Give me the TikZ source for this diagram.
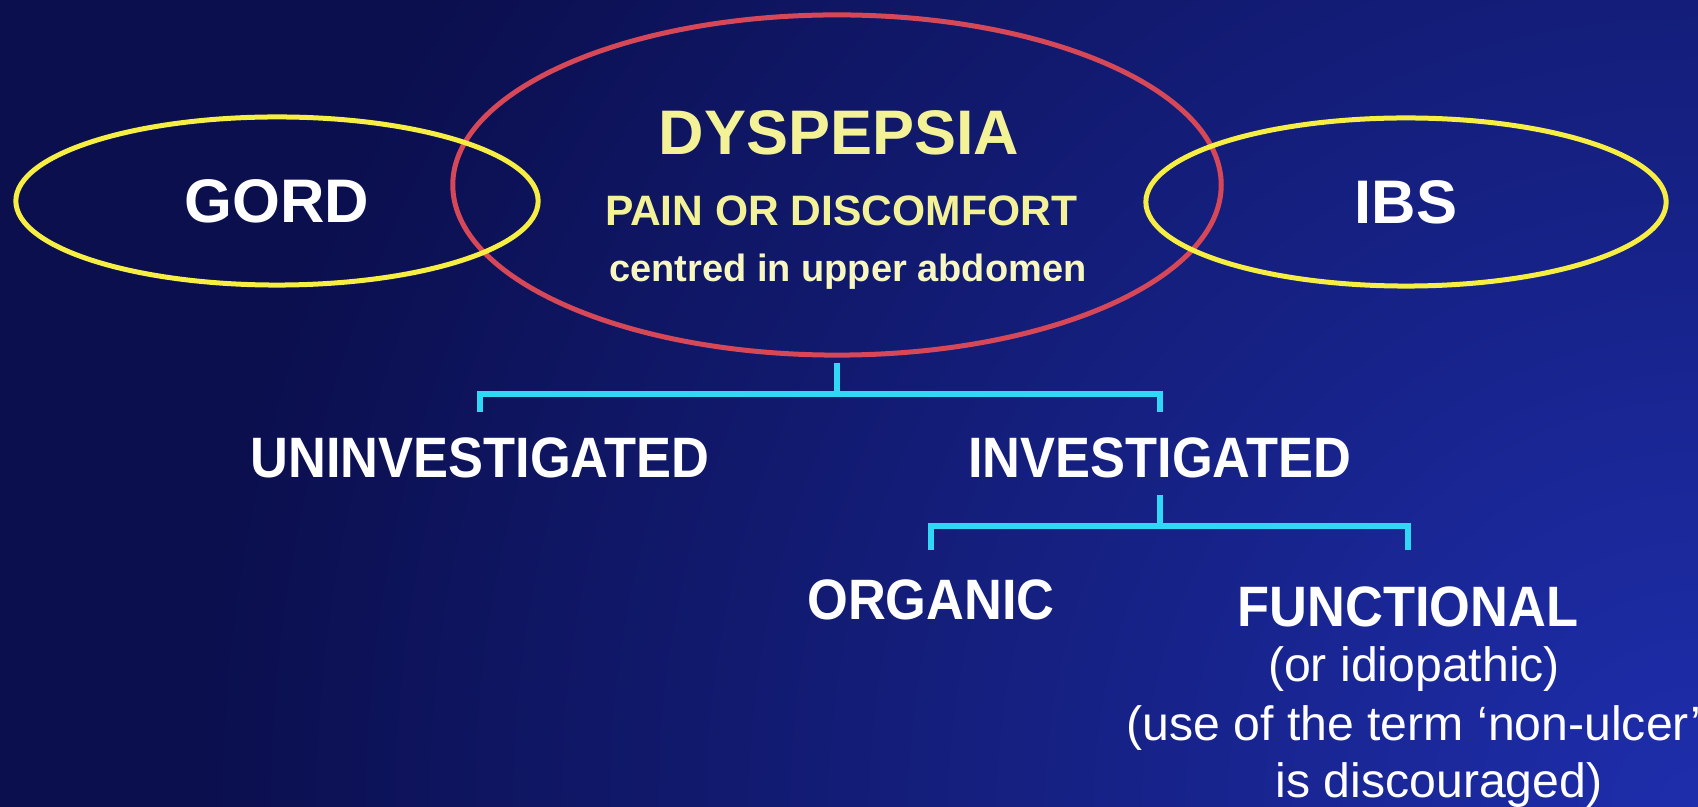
\documentclass[tikz,border=0pt]{standalone}
\usepackage{fontspec}
\setmainfont{Liberation Sans}
\newfontfamily\narrowsans[FakeStretch=0.92]{Liberation Sans}
\usepackage{xcolor}
\usetikzlibrary{shapes.geometric,positioning,calc}

\definecolor{bgdark}{RGB}{11,15,78}
\definecolor{bglight}{RGB}{30,46,172}
\definecolor{ringyellow}{RGB}{246,238,66}
\definecolor{ringred}{RGB}{214,72,88}
\definecolor{paleyellow}{RGB}{244,242,150}
\definecolor{linkcyan}{RGB}{48,216,246}

\begin{document}
\begin{tikzpicture}[
    x=0.01cm, y=-0.01cm,
    ring/.style={ellipse, draw=ringyellow, line width=0.05cm, inner sep=0pt},
    redring/.style={ellipse, draw=ringred, line width=0.05cm, inner sep=0pt},
    sidetext/.style={text=white, font=\fontsize{17.5}{20}\selectfont\bfseries},
    headtext/.style={inner sep=0pt, text=paleyellow, font=\bfseries},
    branch/.style={inner sep=0pt, text=white, font=\narrowsans\fontsize{16.2}{18}\selectfont\bfseries},
    remark/.style={inner sep=0pt, text=white, font=\fontsize{13.7}{16}\selectfont},
    linkline/.style={draw=linkcyan, line width=0.06cm}
]
\useasboundingbox (0,0) rectangle (1698,807);

% Background
\fill[bgdark] (0,0) rectangle (1698,807);
\begin{scope}
  \clip (0,0) rectangle (1698,807);
  \shade[inner color=bglight, outer color=bgdark] (1698,807) circle (1500);
\end{scope}

% Rings
\node[redring, minimum width=7.68cm, minimum height=3.40cm] (dysp) at (837,185) {};
\node[ring, sidetext, minimum width=5.22cm, minimum height=1.68cm] (gord) at (277,201) {GORD};
\node[ring, sidetext, minimum width=5.20cm, minimum height=1.68cm] (ibs) at (1406,202) {IBS};

% Dyspepsia text
\node[headtext, font=\fontsize{17.9}{20}\selectfont\bfseries] (title) at (839,133) {DYSPEPSIA};
\node[headtext, font=\fontsize{12.1}{14}\selectfont\bfseries] (pain) at (841,211) {PAIN OR DISCOMFORT};
\node[headtext, text=paleyellow!60!white, font=\fontsize{10.8}{13}\selectfont\bfseries] (site) at (848,272) {centred in upper abdomen};

% Branches
\node[branch] (uninv) at (480,458) {UNINVESTIGATED};
\node[branch] (inv) at (1160,458) {INVESTIGATED};
\node[branch] (organic) at (931,600) {ORGANIC};
\node[branch] (func) at (1408,607) {FUNCTIONAL};
\node[remark] (idio) at (1414,669) {(or idiopathic)};
\node[remark] (usage) at (1414,728) {(use of the term `non-ulcer'};
\node[remark] (disc) at (1439,785) {is discouraged)};

% Brackets
\draw[linkline] ($(dysp.south)+(0,5)$) -- ++(0,31) coordinate (fork1);
\draw[linkline] ($(uninv.north)+(0,-25)$) |- (fork1) -| ($(inv.north)+(0,-25)$);
\draw[linkline] ($(inv.south)+(0,16)$) -- ++(0,31) coordinate (fork2);
\draw[linkline] ($(organic.north)+(0,-29)$) |- (fork2) -| ($(func.north)+(0,-36)$);

\end{tikzpicture}
\end{document}
